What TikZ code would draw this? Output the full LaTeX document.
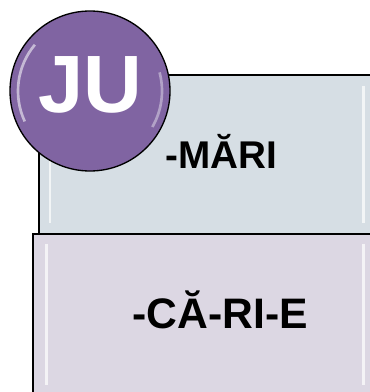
\documentclass[tikz,border=0pt]{standalone}
\usepackage{fontspec}
\setmainfont{Liberation Sans}
\usepackage{tikz}
\usetikzlibrary{positioning}

\definecolor{juPurple}{HTML}{8064A2}
\definecolor{mariFill}{HTML}{D6DEE4}
\definecolor{careFill}{HTML}{DCD7E3}

\tikzset{
  syllable/.style={rectangle, draw=black, line width=1.5pt, anchor=north west, inner sep=0pt},
  bevel/.style={draw=white, line width=2pt, opacity=0.7},
  badge/.style={circle, draw=black, line width=1pt, fill=juPurple, inner sep=0pt, minimum size=120pt},
  word/.style={anchor=base, inner sep=0pt, font=\bfseries}
}

\begin{document}
\begin{tikzpicture}[x=0.75pt, y=-0.75pt]
\useasboundingbox (0,0) rectangle (370,392);
% boxes
\node[syllable, fill=mariFill, minimum width=250.5pt, minimum height=119.25pt] (mari box) at (38,74) {};
\draw[bevel] ([shift={(9pt,-9pt)}]mari box.north west) -- ([shift={(9pt,9pt)}]mari box.south west);
\draw[bevel] ([shift={(-8pt,-9pt)}]mari box.north east) -- ([shift={(-8pt,9pt)}]mari box.south east);
\node[syllable, fill=careFill, minimum width=255pt, minimum height=120.75pt] (care box) at (32,233) {};
\draw[bevel] ([shift={(11pt,-8pt)}]care box.north west) -- ([shift={(11pt,8pt)}]care box.south west);
\draw[bevel] ([shift={(-8pt,-8pt)}]care box.north east) -- ([shift={(-8pt,8pt)}]care box.south east);
% words
\node[word, font=\bfseries\fontsize{29}{30}\selectfont] (mari) at (221,168) {-MĂRI};
\node[word, font=\bfseries\fontsize{32}{34}\selectfont] (care) at (220,328) {-CĂ-RI-E};
% badge
\node[badge] (ju) at (90,91) {};
\draw[white, opacity=0.55, line width=2pt] ([shift={(140:54pt)}]ju.center) arc[start angle=140, end angle=205, radius=54pt];
\draw[white, opacity=0.4, line width=2pt] ([shift={(-30:54pt)}]ju.center) arc[start angle=-30, end angle=15, radius=54pt];
\node[text=white, inner sep=0pt, font=\bfseries\fontsize{61}{61}\selectfont] (ju text) at ([yshift=4.5pt]ju.center) {JU};
\end{tikzpicture}
\end{document}
